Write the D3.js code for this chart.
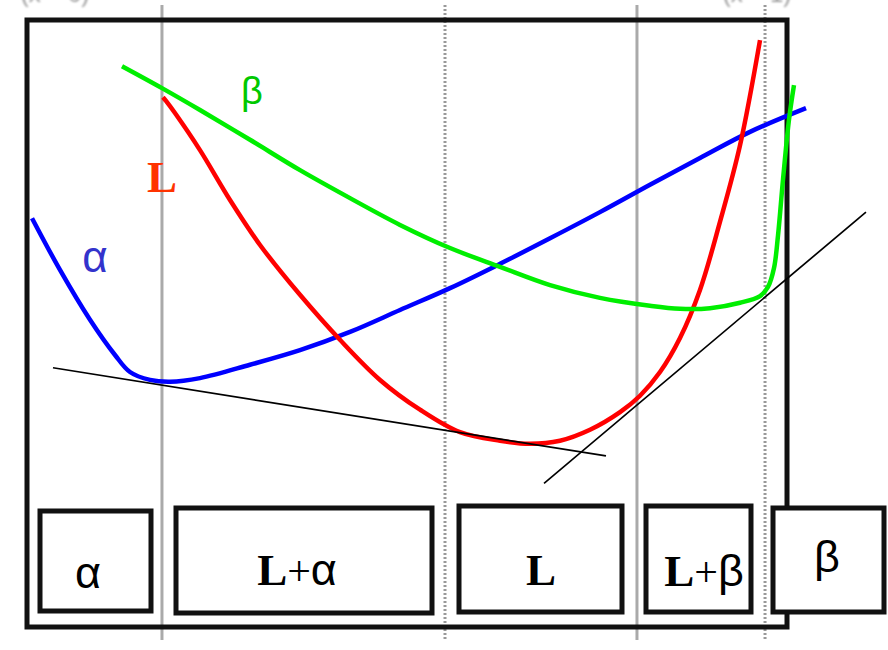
<!DOCTYPE html>
<html>
<head>
<meta charset="utf-8">
<script src="https://cdnjs.cloudflare.com/ajax/libs/d3/7.8.5/d3.min.js"></script>
<style>
  html, body { margin: 0; padding: 0; background: #fff; }
  svg { display: block; }
</style>
</head>
<body>
<svg id="chart" width="888" height="650"></svg>
<script>
// Gibbs free energy vs. composition (arbitrary units), composition in % B
const alphaComp = [0.66, 4.34, 8.29, 11.58, 13.55, 16.18, 18.82, 22.76, 29.34, 35.92, 42.5, 49.08, 55.66, 62.24, 68.82, 75.39, 81.97, 88.55, 95.13, 102.5];
const alphaG    = [67.4, 58.9, 50.7, 44.9, 42.1, 40.8, 40.5, 41.1, 43.3, 45.7, 48.7, 52.3, 55.9, 59.9, 64.1, 68.4, 72.9, 77.3, 81.6, 85.5];

const liquidComp = [17.89, 18.29, 19.47, 22.76, 26.71, 30.66, 35.92, 41.18, 46.45, 51.71, 56.97, 62.24, 66.18, 70.13, 74.08, 78.03, 80.66, 83.29, 85.92, 88.55, 91.18, 93.82, 96.45];
const liquidG    = [87.3, 86.7, 84.7, 78.6, 70.4, 63.0, 54.8, 47.4, 40.8, 35.9, 32.2, 30.8, 30.3, 30.8, 32.6, 35.5, 38.2, 42.1, 47.7, 55.6, 66.8, 79.4, 96.7];

const betaComp = [12.5, 17.76, 22.76, 29.34, 35.92, 42.5, 49.08, 55.66, 62.24, 68.82, 75.39, 81.97, 85.92, 89.87, 93.82, 96.45, 97.5, 98.29, 98.82, 99.47, 100.26, 100.92];
const betaG    = [92.4, 88.8, 85.2, 80.3, 75.3, 70.7, 66.3, 62.5, 59.4, 56.4, 54.3, 53.0, 52.5, 52.6, 53.5, 54.6, 56.1, 59.2, 64.6, 73.7, 83.6, 89.3];

// common tangent lines: [startComp, startG, endComp, endG]
const tangentAlphaL = [3.42, 42.8, 76.18, 28.3];
const tangentLBeta  = [68.03, 23.8, 110.39, 68.4];

// phase boundaries (composition) and their line style
const boundaryComp  = [17.76, 55.0, 80.26, 97.11];
const boundaryStyle = ["solid", "dotted", "solid", "dotted"];

// phase field names shown along the bottom
const phaseLabels = ["α", "L+α", "L", "L+β", "β"];

const svg = d3.select("#chart");

// frame of the plot
const frame = { left: 27, top: 20, right: 787, bottom: 627 };

const x = d3.scaleLinear().domain([0, 100]).range([frame.left, frame.right]);
const y = d3.scaleLinear().domain([0, 100]).range([628, 20]);

// end-member captions running off the top edge
svg.append("g")
  .selectAll("text")
  .data([{ t: "(x = 0)", cx: 55 }, { t: "(x = 1)", cx: 757 }])
  .join("text")
  .attr("x", d => d.cx)
  .attr("y", 2)
  .attr("text-anchor", "middle")
  .attr("font-family", "Liberation Sans, sans-serif")
  .attr("font-size", 24)
  .attr("fill", "#999")
  .style("filter", "blur(0.8px)")
  .text(d => d.t);

// phase boundary lines
svg.append("g")
  .selectAll("line")
  .data(boundaryComp)
  .join("line")
  .attr("x1", d => x(d)).attr("x2", d => x(d))
  .attr("y1", 5).attr("y2", 640)
  .attr("stroke", (d, i) => boundaryStyle[i] === "solid" ? "#aaa" : "#999")
  .attr("stroke-width", 3)
  .attr("stroke-dasharray", (d, i) => boundaryStyle[i] === "solid" ? null : "2,2");

// frame
svg.append("rect")
  .attr("x", frame.left).attr("y", frame.top)
  .attr("width", frame.right - frame.left)
  .attr("height", frame.bottom - frame.top)
  .attr("fill", "none")
  .attr("stroke", "#111")
  .attr("stroke-width", 5);

// free-energy curves
const line = d3.line()
  .x(d => x(d[0]))
  .y(d => y(d[1]))
  .curve(d3.curveCatmullRom.alpha(0.5));

const curves = [
  { comp: alphaComp, g: alphaG, color: "#0000ff" },
  { comp: liquidComp, g: liquidG, color: "#ff0000" },
  { comp: betaComp, g: betaG, color: "#00ee00" }
];

svg.append("g")
  .selectAll("path")
  .data(curves)
  .join("path")
  .attr("d", d => line(d.comp.map((c, i) => [c, d.g[i]])))
  .attr("fill", "none")
  .attr("stroke", d => d.color)
  .attr("stroke-width", 4.5)
  .attr("stroke-linecap", "butt")
  .attr("stroke-linejoin", "round");

// common tangents
svg.append("g")
  .selectAll("line")
  .data([tangentAlphaL, tangentLBeta])
  .join("line")
  .attr("x1", d => x(d[0])).attr("y1", d => y(d[1]))
  .attr("x2", d => x(d[2])).attr("y2", d => y(d[3]))
  .attr("stroke", "#000")
  .attr("stroke-width", 1.7);

// curve labels
svg.append("text")
  .attr("x", 252).attr("y", 104)
  .attr("text-anchor", "middle")
  .attr("font-family", "Liberation Sans, sans-serif")
  .attr("font-size", 38)
  .attr("fill", "#00c800")
  .text("β");

svg.append("text")
  .attr("x", 162).attr("y", 192)
  .attr("text-anchor", "middle")
  .attr("font-family", "Liberation Serif, serif")
  .attr("font-weight", "bold")
  .attr("font-size", 45)
  .attr("fill", "#ff3300")
  .text("L");

svg.append("text")
  .attr("x", 95).attr("y", 272)
  .attr("text-anchor", "middle")
  .attr("font-family", "Liberation Sans, sans-serif")
  .attr("font-size", 44)
  .attr("fill", "#3333cc")
  .text("α");

// phase-field boxes along the bottom
const boxes = [
  { x0: 40, x1: 151, y0: 511, y1: 611, tx: 88, ty: 588 },
  { x0: 176, x1: 432, y0: 508, y1: 613, tx: 297, ty: 585 },
  { x0: 459, x1: 622, y0: 506, y1: 612, tx: 541, ty: 585 },
  { x0: 646, x1: 751, y0: 506, y1: 612, tx: 704, ty: 586 },
  { x0: 773, x1: 884, y0: 508, y1: 612, tx: 827, ty: 572 }
];

const bx = svg.append("g")
  .selectAll("g")
  .data(phaseLabels)
  .join("g");

bx.append("rect")
  .attr("x", (d, i) => boxes[i].x0)
  .attr("y", (d, i) => boxes[i].y0)
  .attr("width", (d, i) => boxes[i].x1 - boxes[i].x0)
  .attr("height", (d, i) => boxes[i].y1 - boxes[i].y0)
  .attr("fill", "#fff")
  .attr("stroke", "#111")
  .attr("stroke-width", 5);

bx.each(function(d, i) {
  const t = d3.select(this).append("text")
    .attr("x", boxes[i].tx)
    .attr("y", boxes[i].ty)
    .attr("text-anchor", "middle")
    .attr("fill", "#000");
  // "L" and "+" set in bold/regular serif, Greek letters in sans
  const parts = d.match(/L|\+|[αβ]/g);
  parts.forEach(p => {
    const s = t.append("tspan").text(p);
    if (p === "L") {
      s.attr("font-family", "Liberation Serif, serif").attr("font-weight", "bold").attr("font-size", 45);
    } else if (p === "+") {
      s.attr("font-family", "Liberation Serif, serif").attr("font-size", 42);
    } else {
      s.attr("font-family", "Liberation Sans, sans-serif").attr("font-size", 45);
    }
  });
});
</script>
</body>
</html>
